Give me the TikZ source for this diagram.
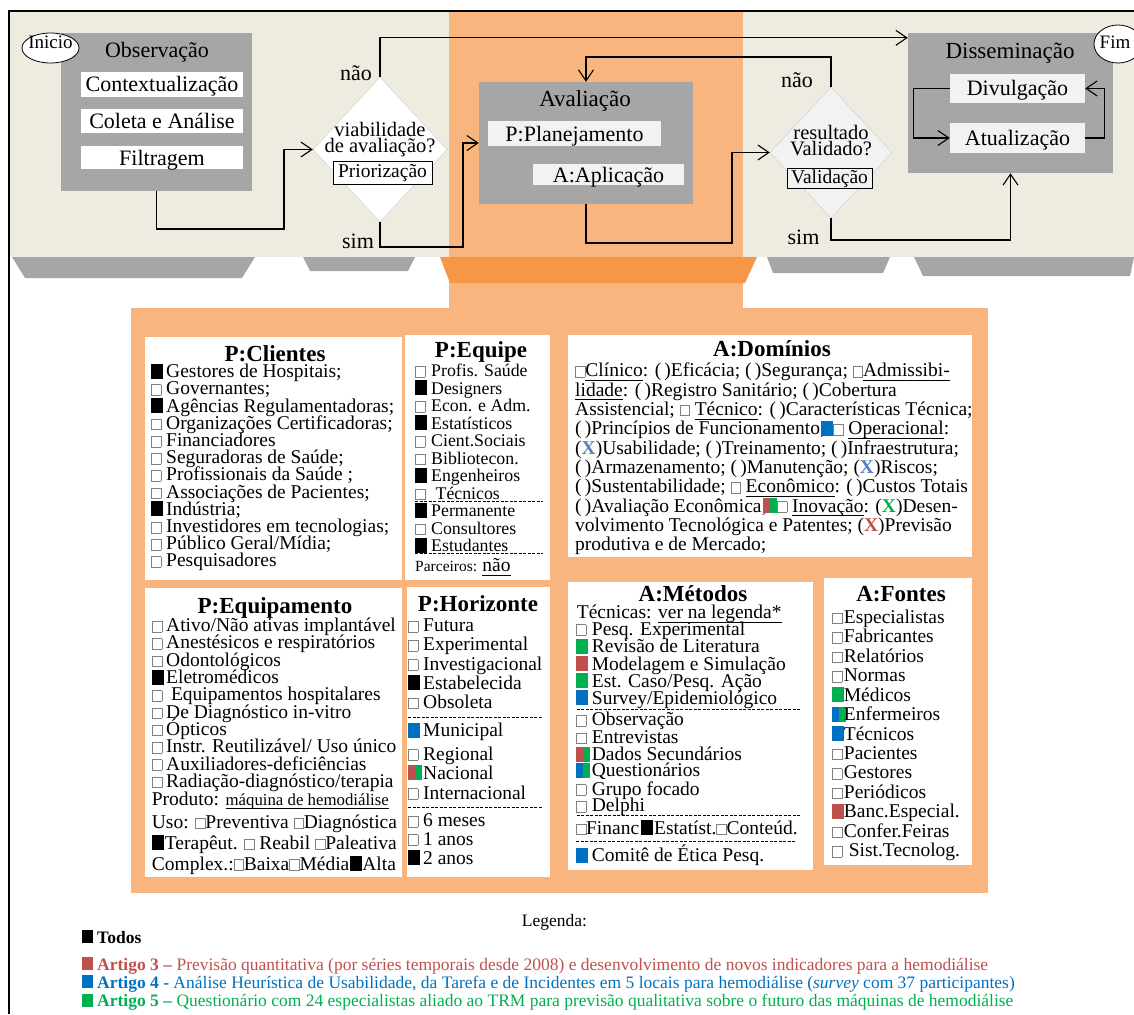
\documentclass[tikz,border=0pt]{standalone}
\usepackage{fontspec}
\setmainfont{Liberation Serif}
\usetikzlibrary{arrows.meta,shapes.geometric}

\definecolor{beige}{HTML}{EEECE1}
\definecolor{lorange}{HTML}{F8B67E}
\definecolor{dorange}{HTML}{F79646}
\definecolor{boxgray}{HTML}{A6A6A6}
\definecolor{lgray}{HTML}{F2F2F2}
\definecolor{artred}{HTML}{C0504D}
\definecolor{artblue}{HTML}{0070C0}
\definecolor{artgreen}{HTML}{00B050}
\definecolor{xblue}{HTML}{4F81BD}

% marcadores das listas
\newcommand{\eb}{\textcolor{gray}{\setlength{\fboxsep}{0pt}\setlength{\fboxrule}{0.6pt}\fbox{\rule{0pt}{10pt}\hspace{9pt}}}}
\newcommand{\fb}[1][black]{\textcolor{#1}{\rule[-1pt]{12pt}{15pt}}}
\newcommand{\tb}[2]{\textcolor{#1}{\rule[-1pt]{7pt}{15pt}}\textcolor{#2}{\rule[-1pt]{7pt}{15pt}}}
\def\boxw{15pt}
\newcommand{\bxe}{\makebox[\boxw][l]{\eb}}
\newcommand{\bxf}[1][black]{\makebox[\boxw][l]{\fb[#1]}}
\newcommand{\bxt}[2]{\makebox[\boxw][l]{\tb{#1}{#2}}}
% sublinhado rente a linha de base
\newcommand{\ul}[1]{\setbox0\hbox{#1}\rlap{\rule[-4pt]{\wd0}{0.8pt}}\box0}

\begin{document}
\begin{tikzpicture}[x=1pt,y=-1pt,
    font=\fontsize{22}{22}\selectfont,
    flow/.style={line width=1.1pt,-{Straight Barb[length=11pt,width=15pt]}},
    graybox/.style={fill=boxgray,inner sep=0pt},
    wbox/.style={fill=white,inner sep=0pt,text height=16pt,text depth=1pt},
    lbox/.style={fill=lgray,inner sep=0pt,text height=16pt,text depth=1pt},
    tagbox/.style={draw,line width=0.8pt,inner sep=0pt,text height=13pt,text depth=3pt,font=\fontsize{19.5}{19.5}\selectfont},
    lbl/.style={anchor=base,inner sep=0pt},
    panel/.style={fill=white,inner sep=0pt},
    ttl/.style={anchor=base,inner sep=0pt,font=\fontsize{23}{23}\selectfont\bfseries},
    item/.style={anchor=base west,inner sep=0pt,font=\fontsize{19.5}{19.5}\selectfont},
    sitem/.style={item,font=\fontsize{17.8}{17.8}\selectfont},
    leg/.style={anchor=base west,inner sep=0pt,font=\fontsize{17.5}{17.5}\selectfont},
    sep/.style={line width=0.8pt,dash pattern=on 3pt off 1.5pt}]
\useasboundingbox (0,0) rectangle (1134,1014);

% fundo
\fill[beige] (10,12) rectangle (1134,257);
\fill[lorange] (449,12) rectangle (743,310);
\fill[lorange] (131,308) rectangle (988,893);
\fill[boxgray] (12,257) -- (255,257) -- (242,278) -- (25,278) -- cycle;
\fill[boxgray] (303,257) -- (415,257) -- (408,271) -- (310,271) -- cycle;
\fill[dorange] (440,257) -- (757,257) -- (745,283) -- (450,283) -- cycle;
\fill[boxgray] (767,257) -- (890,257) -- (883,273) -- (773,273) -- cycle;
\fill[boxgray] (914,257) -- (1134,257) -- (1130,276) -- (923,276) -- cycle;
\draw[line width=1.4pt] (9,1014) -- (9,11) -- (1134,11);

% fluxo superior
\node[graybox,minimum width=191pt,minimum height=158pt] (obs) at (156.5,112) {};
\node[lbl] (obs-t) at (157,57.3) {Observação};
\node[wbox,minimum width=162pt,minimum height=25pt] (ctx) at (162,84.5) {Contextualização};
\node[wbox,minimum width=162pt,minimum height=24pt] (col) at (162,121) {Coleta e Análise};
\node[wbox,minimum width=162pt,minimum height=23pt] (fil) at (162,157.5) {Filtragem};
\node[ellipse,draw,fill=white,line width=0.8pt,minimum width=57pt,minimum height=30pt,inner sep=0pt] (inicio) at (50.5,48) {};
\node[lbl,font=\fontsize{19}{19}\selectfont] (inicio-t) at (50.5,49) {Inicio};

\node[diamond,draw=gray!40,fill=white,minimum width=134pt,minimum height=145pt,inner sep=0pt] (via) at (380,149.5) {};
\node[lbl,font=\fontsize{20.5}{20.5}\selectfont] (via-t1) at (380,136.7) {viabilidade};
\node[lbl,font=\fontsize{20.5}{20.5}\selectfont] (via-t2) at (380,152) {de avaliação?};
\node[tagbox,fill=white,minimum width=99pt,minimum height=23pt] (prio) at (382.5,172.5) {Priorização};
\node[lbl] (via-nao) at (356,81) {não};
\node[lbl] (via-sim) at (358,248) {sim};

\node[graybox,minimum width=214pt,minimum height=122pt] (aval) at (586,143) {};
\node[lbl,font=\fontsize{23}{23}\selectfont] (aval-t) at (585,106.7) {Avaliação};
\node[lbox,minimum width=173pt,minimum height=25pt] (plan) at (574.5,133.5) {P:Planejamento};
\node[lbox,minimum width=151pt,minimum height=21pt] (apl) at (608.5,174.5) {A:Aplicação};

\node[diamond,draw=gray!40,fill=lgray,minimum width=122pt,minimum height=131pt,inner sep=0pt] (res) at (831,152.5) {};
\node[lbl,font=\fontsize{20.5}{20.5}\selectfont] (res-t1) at (831,139.3) {resultado};
\node[lbl,font=\fontsize{20.5}{20.5}\selectfont] (res-t2) at (831,155.5) {Validado?};
\node[tagbox,fill=lgray,minimum width=85pt,minimum height=20pt] (valid) at (829.5,178) {Validação};
\node[lbl] (res-nao) at (797,88) {não};
\node[lbl] (res-sim) at (803.5,244) {sim};

\node[graybox,minimum width=205pt,minimum height=140pt] (diss) at (1010.5,103) {};
\node[lbl,font=\fontsize{23}{23}\selectfont] (diss-t) at (1010,58.3) {Disseminação};
\node[lbox,minimum width=135pt,minimum height=29pt] (div) at (1017.5,88.5) {Divulgação};
\node[lbox,minimum width=135pt,minimum height=30pt] (atu) at (1017.5,138) {Atualização};
\node[ellipse,draw,fill=white,line width=0.8pt,minimum width=48pt,minimum height=38pt,inner sep=0pt] (fim) at (1118,44) {};
\node[lbl,font=\fontsize{19}{19}\selectfont] (fim-t) at (1115,48.3) {Fim};

\draw[flow] (obs.south) |- (284,229) |- (via.west);
\draw[flow] (via.north) |- ([yshift=-5pt]diss.north west);
\draw[flow] (via.south) |- (463,247) |- (aval.west);
\draw[flow] (aval.south) |- (732,243) |- (res.west);
\draw[flow] (res.north) |- (586,57) -- (aval.north);
\draw[flow] (res.south) |- (1010.5,240) -- (diss.south);
\draw[flow] (div.west) -- ++(-36,0) |- (atu.west);
\draw[flow] (atu.east) -- ++(19,0) |- (div.east);

% P:Clientes
\node[panel,minimum width=257pt,minimum height=243pt] (cli) at (273.5,458.5) {};
\node[ttl] (cli-t) at (275,361) {P:Clientes};
\foreach \txt [count=\i from 0] in {
    {\bxf Gestores de Hospitais;},
    {\bxe Governantes;},
    {\bxf Agências Regulamentadoras;},
    {\bxe Organizações Certificadoras;},
    {\bxe Financiadores},
    {\bxe Seguradoras de Saúde;},
    {\bxe Profissionais da Saúde ;},
    {\bxe Associações de Pacientes;},
    {\bxf Indústria;},
    {\bxe Investidores em tecnologias;},
    {\bxe Público Geral/Mídia;},
    {\bxe Pesquisadores}}
  \node[item] (cli-\i) at (151,377.7+17.2*\i) {\txt};

% P:Equipe
\node[panel,minimum width=145pt,minimum height=245pt] (equ) at (477.5,457.5) {};
\node[ttl] (equ-t) at (481,357) {P:Equipe};
\def\boxw{16pt}
\foreach \txt [count=\i from 0] in {
    {\bxe Profis. Saúde},
    {\bxf Designers},
    {\bxe Econ. e Adm.},
    {\bxf Estatísticos},
    {\bxe Cient.Sociais},
    {\bxe Bibliotecon.},
    {\bxf Engenheiros},
    {\bxe\ Técnicos},
    {\bxf Permanente},
    {\bxe Consultores},
    {\bxf Estudantes}}
  \node[sitem] (equ-\i) at (415,376.7+17.5*\i) {\txt};
\draw[sep] (415,501) -- (543,501);
\draw[sep] (415,553) -- (543,553);
\node[item,font=\fontsize{15.5}{15.5}\selectfont] (equ-parc) at (415,571.7) {Parceiros: {\fontsize{19.5}{19.5}\selectfont\ul{não}}};

% A:Dominios
\node[panel,minimum width=404pt,minimum height=222pt] (dom) at (770,446) {};
\node[ttl] (dom-t) at (772,356) {A:Domínios};
\foreach \txt [count=\i from 0] in {
    {\eb\ul{Clínico}: (\,)Eficácia; (\,)Segurança; \eb\ul{Admissibi-}},
    {\ul{lidade}: (\,)Registro Sanitário; (\,)Cobertura},
    {Assistencial; \eb\ \ul{Técnico}: (\,)Características Técnica;},
    {(\,)Princípios de Funcionamento;\kern-4pt\fb[artblue]\eb\ \ul{Operacional}:},
    {(\textbf{\textcolor{xblue}{X}})Usabilidade; (\,)Treinamento; (\,)Infraestrutura;},
    {(\,)Armazenamento; (\,)Manutenção; (\textbf{\textcolor{xblue}{X}})Riscos;},
    {(\,)Sustentabilidade; \eb\ \ul{Econômico}: (\,)Custos Totais},
    {(\,)Avaliação Econômica;\kern-4pt\tb{artred}{artgreen}\eb\ \ul{Inovação}: (\textbf{\textcolor{artgreen}{X}})Desen-},
    {volvimento Tecnológica e Patentes; (\textbf{\textcolor{artred}{X}})Previsão},
    {produtiva e de Mercado;}}
  \node[item] (dom-\i) at (575,376.7+19.33*\i) {\txt};

% P:Equipamento
\node[panel,minimum width=257pt,minimum height=289pt] (eqp) at (273.5,732.5) {};
\node[ttl] (eqp-t) at (275,613.3) {P:Equipamento};
\def\boxw{14.3pt}
\foreach \txt [count=\i from 0] in {
    {\bxe Ativo/Não ativas implantável},
    {\bxe Anestésicos e respiratórios},
    {\bxe Odontológicos},
    {\bxf Eletromédicos},
    {\bxe\ Equipamentos hospitalares},
    {\bxe De Diagnóstico in-vitro},
    {\bxe Ópticos},
    {\bxe Instr. Reutilizável/ Uso único},
    {\bxe Auxiliadores-deficiências},
    {\bxe Radiação-diagnóstico/terapia}}
  \node[item] (eqp-\i) at (151.7,631.7+17.29*\i) {\txt};
\node[item] (eqp-prod) at (151.7,805) {Produto: {\fontsize{16.8}{16.8}\selectfont\ul{máquina de hemodiálise}}};
\node[item] (eqp-uso) at (151.7,828.3) {Uso: \eb{}Preventiva \eb{}Diagnóstica};
\node[item] (eqp-ter) at (151.7,849.3) {\fb\kern1pt Terapêut. \eb\ Reabil \eb{}Paleativa};
\node[item] (eqp-cpx) at (151.7,870) {Complex.:\eb{}Baixa\eb{}Média\kern1pt\fb{}Alta};

% P:Horizonte
\node[panel,minimum width=143pt,minimum height=290pt] (hor) at (478.5,732) {};
\node[ttl] (hor-t) at (478,611.7) {P:Horizonte};
\def\boxw{15pt}
\foreach \y/\txt [count=\i] in {
    631.7/{\bxe Futura},
    650.7/{\bxe Experimental},
    670/{\bxe Investigacional},
    689.3/{\bxf Estabelecida},
    708.3/{\bxe Obsoleta},
    736.7/{\bxf[artblue]Municipal},
    760/{\bxe Regional},
    779.3/{\bxt{artred}{artgreen}Nacional},
    799/{\bxe Internacional},
    826.7/{\bxe 6 meses},
    845/{\bxe 1 anos},
    864/{\bxf 2 anos}}
  \node[item] (hor-\i) at (408,\y) {\txt};
\draw[sep] (408,717.3) -- (542,717.3);
\draw[sep] (408,807.7) -- (542,807.7);

% A:Metodos
\node[panel,minimum width=245pt,minimum height=288pt] (met) at (690.5,726) {};
\node[ttl] (met-t) at (693,601) {A:Métodos};
\node[item] (met-tec) at (576.7,618.3) {Técnicas: \ul{ver na legenda*}};
\def\boxw{16pt}
\foreach \y/\txt [count=\i] in {
    635/{\bxe Pesq. Experimental},
    652.7/{\bxf[artgreen]Revisão de Literatura},
    670/{\bxf[artred]Modelagem e Simulação},
    687.3/{\bxf[artgreen]Est. Caso/Pesq. Ação},
    704.3/{\bxf[artblue]Survey/Epidemiológico},
    725.7/{\bxe Observação},
    743.3/{\bxe Entrevistas},
    760.7/{\bxt{artred}{artgreen}Dados Secundários},
    776.7/{\bxt{artblue}{artgreen}Questionários},
    795/{\bxe Grupo focado},
    811.7/{\bxe Delphi},
    834.3/{\eb{}Financ\kern2pt\fb\kern1pt Estatíst.\eb{}Conteúd.},
    861.7/{\bxf[artblue]Comitê de Ética Pesq.}}
  \node[item] (met-\i) at (575.7,\y) {\txt};
\draw[sep] (576.7,709) -- (801.7,709);
\draw[sep] (576.7,815.7) -- (801.7,815.7);
\draw[sep] (576,841.7) -- (795,841.7);

% A:Fontes
\node[panel,minimum width=148pt,minimum height=287pt] (fon) at (898,721.5) {};
\node[ttl] (fon-t) at (901,601.7) {A:Fontes};
\def\boxw{12pt}
\foreach \txt [count=\i from 0] in {
    {\bxe Especialistas},
    {\bxe Fabricantes},
    {\bxe Relatórios},
    {\bxe Normas},
    {\bxf[artgreen]Médicos},
    {\bxt{artblue}{artgreen}Enfermeiros},
    {\bxf[artblue]Técnicos},
    {\bxe Pacientes},
    {\bxe Gestores},
    {\bxe Periódicos},
    {\bxf[artred]Banc.Especial.},
    {\bxe Confer.Feiras},
    {\bxe\ Sist.Tecnolog.}}
  \node[item] (fon-\i) at (831.7,623.3+19.45*\i) {\txt};

% legenda
\node[leg] (leg-t) at (521.7,926.7) {Legenda:};
\node[leg] (leg-0) at (82,943.3) {\rule{11pt}{13pt}\kern4pt\textbf{Todos}};
\node[leg,text=artred] (leg-3) at (82,970) {\rule{11pt}{13pt}\kern4pt\textbf{Artigo 3 –} Previsão quantitativa (por séries temporais desde 2008) e desenvolvimento de novos indicadores para a hemodiálise};
\node[leg,text=artblue] (leg-4) at (82,988.3) {\rule{11pt}{13pt}\kern4pt\textbf{Artigo 4 -} Análise Heurística de Usabilidade, da Tarefa e de Incidentes em 5 locais para hemodiálise (\textit{survey} com 37 participantes)};
\node[leg,text=artgreen] (leg-5) at (82,1006.7) {\rule{11pt}{13pt}\kern4pt\textbf{Artigo 5 –} Questionário com 24 especialistas aliado ao TRM para previsão qualitativa sobre o futuro das máquinas de hemodiálise};
\end{tikzpicture}
\end{document}
